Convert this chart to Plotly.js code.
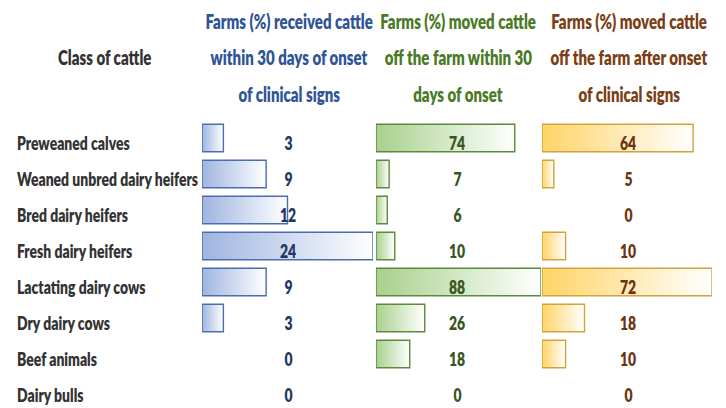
<!DOCTYPE html>
<html>
<head>
<meta charset="utf-8">
<script src="https://cdn.plot.ly/plotly-3.0.1.min.js"></script>
<style>
html,body{margin:0;padding:0;background:#fff;}
#chart{width:726px;height:408px;}
</style>
</head>
<body>
<div id="chart"></div>
<script>
// ---- data ----
const categories = [
  "Preweaned calves",
  "Weaned unbred dairy heifers",
  "Bred dairy heifers",
  "Fresh dairy heifers",
  "Lactating dairy cows",
  "Dry dairy cows",
  "Beef animals",
  "Dairy bulls"
];
const receivedWithin30 = [3, 9, 12, 24, 9, 3, 0, 0];
const movedWithin30 = [74, 7, 6, 10, 88, 26, 18, 0];
const movedAfterOnset = [64, 5, 0, 10, 72, 18, 10, 0];

const rowHeader = "Class of cattle";
const header1 = ["Farms (%) received cattle", "within 30 days of onset", "of clinical signs"];
const header2 = ["Farms (%) moved cattle", "off the farm within 30", "days of onset"];
const header3 = ["Farms (%) moved cattle", "off the farm after onset", "of clinical signs"];

// ---- styling ----
const W = 726, H = 408;
const FONT = 'Lato, "Open Sans", "Liberation Sans", sans-serif';
const FS = 19;      // body text size
const FSH = 20.5;   // header text size
const WT = 800;
const px = v => v / W;
const py = v => 1 - v / H;

const cols = [
  {vals: receivedWithin30, header: header1, xa: 'x',  dom: [px(202), px(373)], max: 24,
   fill: '#bccbea', line: '#4a6cb0', head: '#2f5597', val: '#1f3864', center: 288, g: ['#9fb4e0', '#ffffff']},
  {vals: movedWithin30, header: header2, xa: 'x2', dom: [px(376), px(541)], max: 88,
   fill: '#cde3bf', line: '#5a8a3a', head: '#4a7a26', val: '#375623', center: 457, g: ['#a8d08d', '#ffffff']},
  {vals: movedAfterOnset, header: header3, xa: 'x3', dom: [px(542), px(712)], max: 72,
   fill: '#ffe7a8', line: '#d2a33a', head: '#7a3f16', val: '#6b3412', center: 628, g: ['#ffd466', '#ffffff']}
];

const traces = cols.map((c, i) => ({
  type: 'bar',
  orientation: 'h',
  y: categories,
  x: c.vals,
  xaxis: c.xa,
  yaxis: 'y',
  width: 0.76,
  marker: {color: c.fill, line: {color: c.line, width: c.vals.map(v => v > 0 ? 1.4 : 0)}},
  hoverinfo: 'skip',
  showlegend: false
}));

const annotations = [];
const leftIdx = new Set();
const ROWSHIFT = -4;
// row labels
categories.forEach(cat => {
  leftIdx.add(annotations.length);
  annotations.push({
    xref: 'paper', yref: 'y', x: px(15), y: cat, xanchor: 'left', yanchor: 'middle', yshift: ROWSHIFT,
    text: cat, showarrow: false, font: {family: FONT, size: FS, color: '#333333', weight: WT}
  });
});
annotations.push({
  xref: 'paper', yref: 'paper', x: px(104), y: py(57), xanchor: 'center', yanchor: 'middle',
  text: rowHeader, showarrow: false, font: {family: FONT, size: FSH, color: '#333333', weight: WT}
});
const headY = [21, 57.5, 94];
cols.forEach(c => {
  c.header.forEach((t, k) => annotations.push({
    xref: 'paper', yref: 'paper', x: px(c.center + 1), y: py(headY[k]), xanchor: 'center', yanchor: 'middle',
    text: t, showarrow: false, font: {family: FONT, size: FSH, color: c.head, weight: WT}
  }));
  c.vals.forEach((v, j) => annotations.push({
    xref: 'paper', yref: 'y', x: px(c.center), y: categories[j], xanchor: 'center', yanchor: 'middle', yshift: ROWSHIFT,
    text: String(v), showarrow: false, font: {family: FONT, size: FS, color: c.val, weight: WT}
  }));
});

const axBase = {showgrid: false, zeroline: false, showticklabels: false, ticks: '', showline: false, fixedrange: true};
const layout = {
  width: W, height: H,
  margin: {l: 0, r: 0, t: 0, b: 0},
  paper_bgcolor: '#ffffff', plot_bgcolor: 'rgba(0,0,0,0)',
  xaxis:  Object.assign({}, axBase, {domain: cols[0].dom, range: [0, cols[0].max], anchor: 'y'}),
  xaxis2: Object.assign({}, axBase, {domain: cols[1].dom, range: [0, cols[1].max], anchor: 'y'}),
  xaxis3: Object.assign({}, axBase, {domain: cols[2].dom, range: [0, cols[2].max], anchor: 'y'}),
  yaxis: Object.assign({}, axBase, {domain: [0, py(120)], type: 'category', range: [7.5, -0.5]}),
  annotations: annotations
};

Plotly.newPlot('chart', traces, layout, {displayModeBar: false, staticPlot: true}).then(gd => {
  const svg = gd.querySelector('svg.main-svg');
  const ns = 'http://www.w3.org/2000/svg';
  // gradient fills like spreadsheet data bars
  let defs = svg.querySelector('defs');
  if (!defs) { defs = document.createElementNS(ns, 'defs'); svg.insertBefore(defs, svg.firstChild); }
  cols.forEach((c, i) => {
    const lg = document.createElementNS(ns, 'linearGradient');
    lg.setAttribute('id', 'dbgrad' + i);
    lg.setAttribute('x1', '0'); lg.setAttribute('x2', '1'); lg.setAttribute('y1', '0'); lg.setAttribute('y2', '0');
    [[0, c.g[0]], [1, c.g[1]]].forEach(([o, col]) => {
      const s = document.createElementNS(ns, 'stop');
      s.setAttribute('offset', String(o)); s.setAttribute('stop-color', col);
      lg.appendChild(s);
    });
    defs.appendChild(lg);
  });
  gd.querySelectorAll('.barlayer .trace').forEach((tg, i) => {
    tg.querySelectorAll('path').forEach(p => { p.style.fill = 'url(#dbgrad' + i + ')'; });
  });
  // condense the lettering horizontally (narrow spreadsheet font look)
  const annEls = Array.from(gd.querySelectorAll('.annotation'));
  const textOf = el => el.querySelector('text.annotation-text');
  const refEl = annEls.find(el => el.getAttribute('data-index') === '1');
  const refW = textOf(refEl).getBBox().width;
  const k = 181 / refW;
  annEls.forEach(el => {
    const t = textOf(el);
    if (!t) return;
    const idx = +el.getAttribute('data-index');
    const bb = t.getBBox();
    const p = leftIdx.has(idx) ? bb.x : bb.x + bb.width / 2;
    const ex = t.getAttribute('transform') || '';
    t.setAttribute('transform', ex + ' translate(' + p + ',0) scale(' + k + ',1) translate(' + (-p) + ',0)');
  });
});
</script>
</body>
</html>
